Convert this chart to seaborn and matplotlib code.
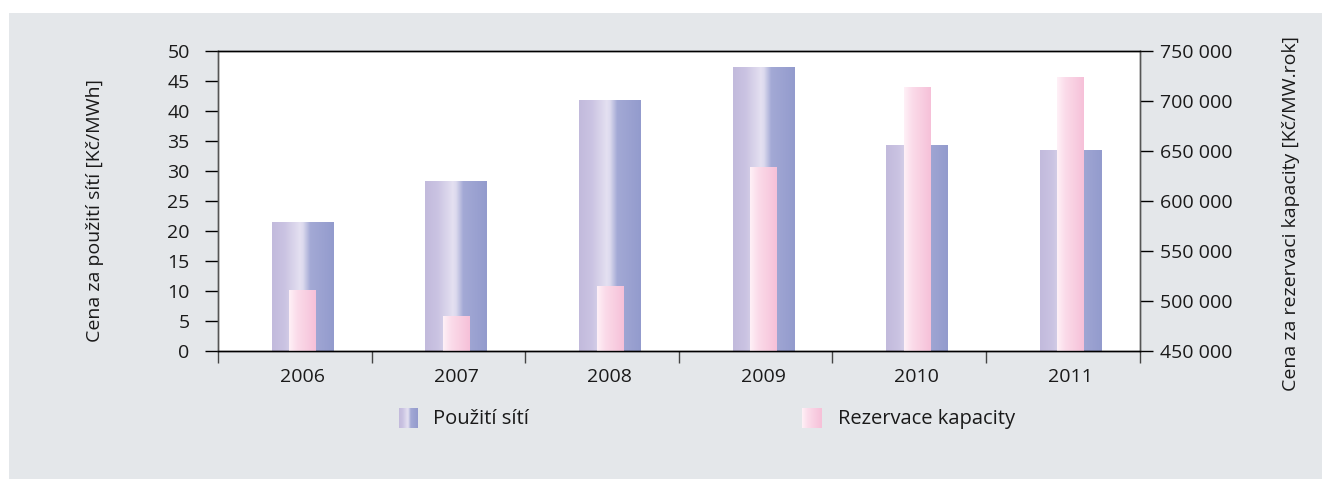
import matplotlib

matplotlib.use("Agg")

import matplotlib.pyplot as plt
import numpy as np
import seaborn as sns
from matplotlib.colors import LinearSegmentedColormap
from matplotlib.patches import Rectangle

years = ["2006", "2007", "2008", "2009", "2010", "2011"]
use_price = [21.5, 28.3, 41.8, 47.2, 34.3, 33.5]  # Kč/MWh, left axis
reserve_price = [511000, 485000, 515000, 634000, 714000, 723000]  # Kč/MW.rok, right axis

left_ticks = list(range(0, 51, 5))
right_ticks = list(range(450000, 750001, 50000))

left_label = "Cena za použití sítí [Kč/MWh]"
right_label = "Cena za rezervaci kapacity [Kč/MW.rok]"
legend_labels = ["Použití sítí", "Rezervace kapacity"]

purple_cmap = LinearSegmentedColormap.from_list(
    "purple",
    [(0.0, "#c2badc"), (0.2, "#cac3e2"), (0.45, "#e4e0f1"), (0.5, "#dcdaee"),
     (0.62, "#a3a9d5"), (1.0, "#939bcd")],
)
pink_cmap = LinearSegmentedColormap.from_list(
    "pink", [(0.0, "#fff1f7"), (0.3, "#fbdcea"), (1.0, "#f6c0d8")]
)
grad = np.linspace(0, 1, 256).reshape(1, -1)

sns.set_theme(style="white")
plt.rcParams["font.family"] = ["Open Sans", "DejaVu Sans"]
plt.rcParams["font.size"] = 14

W, H = 1322, 479
fig = plt.figure(figsize=(W / 100, H / 100), dpi=100, facecolor="white")
fig.add_artist(Rectangle((9 / W, 0), (W - 9) / W, (H - 13) / H,
                         transform=fig.transFigure, facecolor="#e4e7ea",
                         edgecolor="none", zorder=-10))

ax = fig.add_axes([218 / W, (H - 351) / H, 921.5 / W, 300 / H])
ax.set_facecolor("white")
ax2 = ax.twinx()

sns.barplot(x=years, y=use_price, ax=ax, width=0.4, color="#b0b0d8")
sns.barplot(x=years, y=reserve_price, ax=ax2, width=0.17, color="#f6c0d8")

xlim = (-0.55, 5.45)


def gradient_bars(axis, cmap, ymin):
    for p in list(axis.patches):
        x0, w, h = p.get_x(), p.get_width(), p.get_height()
        axis.imshow(grad, cmap=cmap, aspect="auto", interpolation="bilinear",
                    extent=(x0, x0 + w, max(ymin, p.get_y()), p.get_y() + h),
                    zorder=2)
        p.set_visible(False)


gradient_bars(ax, purple_cmap, 0)
gradient_bars(ax2, pink_cmap, right_ticks[0])

ax.set_xlim(xlim)
ax.set_ylim(0, 50)
ax2.set_ylim(right_ticks[0], right_ticks[-1])
ax2.set_xlim(xlim)

ax.set_yticks(left_ticks)
ax2.set_yticks(right_ticks)
ax2.set_yticklabels([f"{v:,}".replace(",", " ") for v in right_ticks])

ax.set_xticks(range(len(years)))
ax.set_xticklabels(years)
ax.set_xticks(np.arange(len(years) + 1) + xlim[0], minor=True)
ax.tick_params(axis="x", which="major", length=0, pad=12, labelsize=14, colors="#1a1a1a")
ax.tick_params(axis="x", which="minor", direction="out", length=8.6, width=1.0,
               color="#444444", bottom=True)
ax.tick_params(axis="y", direction="out", length=9.4, width=1.0, color="black",
               pad=11, labelsize=14, labelcolor="#1a1a1a", left=True)
ax2.tick_params(axis="y", direction="out", length=9.4, width=1.0, color="black",
                pad=5, labelsize=14, labelcolor="#1a1a1a", right=True)
ax2.tick_params(axis="x", length=0)

for a in (ax, ax2):
    for side in ("top", "bottom"):
        a.spines[side].set_color("black")
        a.spines[side].set_linewidth(1.0)
    for side in ("left", "right"):
        a.spines[side].set_color("#555555")
        a.spines[side].set_linewidth(1.0)
    a.set_xlabel("")
    a.grid(False)

ax.set_ylabel(left_label, fontsize=14, color="#1a1a1a")
ax.yaxis.set_label_coords((104 - 218) / 921.5, 0.467)
ax2.set_ylabel(right_label, fontsize=14, color="#1a1a1a", rotation=90)
ax2.yaxis.set_label_coords((1282 - 218) / 921.5, 0.457)

# legend: gradient swatches + labels below the axes
for (sx, tx), cmap, label in zip([(399, 433), (802, 838)], [purple_cmap, pink_cmap],
                                 legend_labels):
    sw = fig.add_axes([sx / W, (H - 428) / H, 19 / W, 20 / H])
    sw.imshow(grad, cmap=cmap, aspect="auto", interpolation="bilinear")
    sw.axis("off")
    fig.text(tx / W, (H - 419) / H, label, fontsize=14.5, color="#1a1a1a",
             va="center", ha="left")

fig.savefig("out.png", dpi=100, facecolor="white")
